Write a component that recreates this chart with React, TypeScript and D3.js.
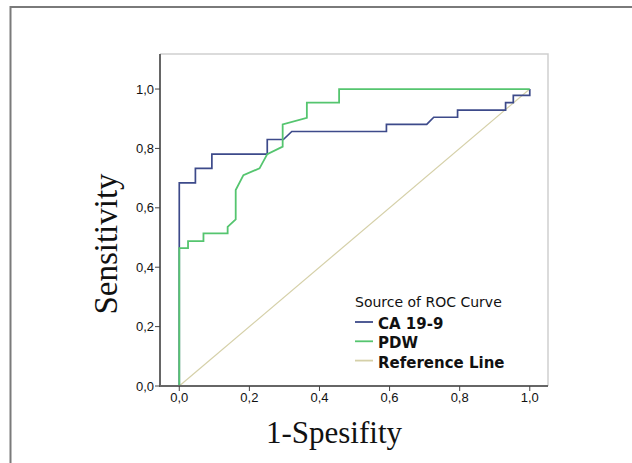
import * as d3 from 'd3';

// ROC curve points (1 - specificity, sensitivity)
const caFpr = [0, 0, 0.046, 0.046, 0.093, 0.093, 0.251, 0.251, 0.297, 0.321, 0.591, 0.591, 0.706, 0.726, 0.794, 0.794, 0.931, 0.931, 0.953, 0.953, 1, 1];
const caTpr = [0, 0.684, 0.684, 0.733, 0.733, 0.781, 0.781, 0.830, 0.830, 0.857, 0.857, 0.881, 0.881, 0.905, 0.905, 0.929, 0.929, 0.954, 0.954, 0.979, 0.979, 1];

const pdwFpr = [0, 0, 0.025, 0.025, 0.069, 0.069, 0.138, 0.138, 0.161, 0.161, 0.183, 0.229, 0.251, 0.295, 0.295, 0.364, 0.364, 0.456, 0.456, 1];
const pdwTpr = [0, 0.464, 0.464, 0.488, 0.488, 0.514, 0.514, 0.536, 0.561, 0.660, 0.710, 0.733, 0.781, 0.806, 0.881, 0.903, 0.954, 0.954, 1, 1];

const refFpr = [0, 1];
const refTpr = [0, 1];

const ticks = [0, 0.2, 0.4, 0.6, 0.8, 1.0];
const legendNames = ['CA 19-9', 'PDW', 'Reference Line'];
const colors = ['#3d4a8a', '#55c56f', '#d5d0a8'];

const fmt = (v: number) => v.toFixed(1).replace('.', ',');

export default function App() {
	const width = 632, height = 463;
	const left = 160, right = 548, top = 54, bottom = 386;

	const x = d3.scaleLinear().domain([-0.055, 1.052]).range([left, right]);
	const y = d3.scaleLinear().domain([0, 1.118]).range([bottom, top]);

	const line = d3.line<[number, number]>()
		.x(d => x(d[0]))
		.y(d => y(d[1]));

	const zip = (a: number[], b: number[]) => a.map((v, i) => [v, b[i]] as [number, number]);
	const series = [
		{ pts: zip(refFpr, refTpr), color: colors[2], w: 1.2 },
		{ pts: zip(caFpr, caTpr), color: colors[0], w: 1.7 },
		{ pts: zip(pdwFpr, pdwTpr), color: colors[1], w: 1.8 },
	];

	const tickFont = 'Liberation Sans, Arial, sans-serif';

	return (
		<svg width={width} height={height} style={{ position: 'fixed', left: 0, top: 0, background: '#fff' }}>
			{/* outer frame */}
			<path d={`M10.5,${height} V7 H${width}`} fill="none" stroke="#7a7a7a" strokeWidth={2} />

			{/* plot frame */}
			<path d={`M${left},${top} H${right} V${bottom}`} fill="none" stroke="#cfcfcf" strokeWidth={1.5} />

			{series.map((s, i) => (
				<path key={i} d={line(s.pts) || ''} fill="none" stroke={s.color} strokeWidth={s.w} />
			))}

			{/* axes */}
			<line x1={left} x2={left} y1={top} y2={bottom + 1} stroke="#666" strokeWidth={2} />
			<line x1={left} x2={right} y1={bottom} y2={bottom} stroke="#666" strokeWidth={2} />

			{ticks.map(t => (
				<g key={'y' + t}>
					<line x1={left - 5} x2={left} y1={y(t)} y2={y(t)} stroke="#444" strokeWidth={1} />
					<text x={left - 6} y={y(t)} dy="0.35em" textAnchor="end" fontFamily={tickFont} fontSize={13} fill="#111">{fmt(t)}</text>
				</g>
			))}
			{ticks.map(t => (
				<g key={'x' + t}>
					<line x1={x(t)} x2={x(t)} y1={bottom} y2={bottom + 5} stroke="#444" strokeWidth={1} />
					<text x={x(t)} y={bottom + 16} textAnchor="middle" fontFamily={tickFont} fontSize={13} fill="#111">{fmt(t)}</text>
				</g>
			))}

			{/* axis titles */}
			<text transform={`translate(117,244) rotate(-90)`} textAnchor="middle"
				fontFamily="Liberation Serif, Times New Roman, serif" fontSize={33} fill="#111">Sensitivity</text>
			<text x={334} y={443} textAnchor="middle"
				fontFamily="Liberation Serif, Times New Roman, serif" fontSize={31} fill="#111">1-Spesifity</text>

			{/* legend */}
			<g>
				<text x={355} y={307} fontFamily="DejaVu Sans, sans-serif" fontSize={14} fill="#111">Source of ROC Curve</text>
				{legendNames.map((n, i) => (
					<g key={n} transform={`translate(355,${322 + i * 19.3})`}>
						<line x1={0} x2={18} y1={0} y2={0} stroke={colors[i]} strokeWidth={1.8} />
						<text x={23} y={7} fontFamily="DejaVu Sans, sans-serif" fontWeight="bold" fontSize={15} fill="#111">{n}</text>
					</g>
				))}
			</g>
		</svg>
	);
}
